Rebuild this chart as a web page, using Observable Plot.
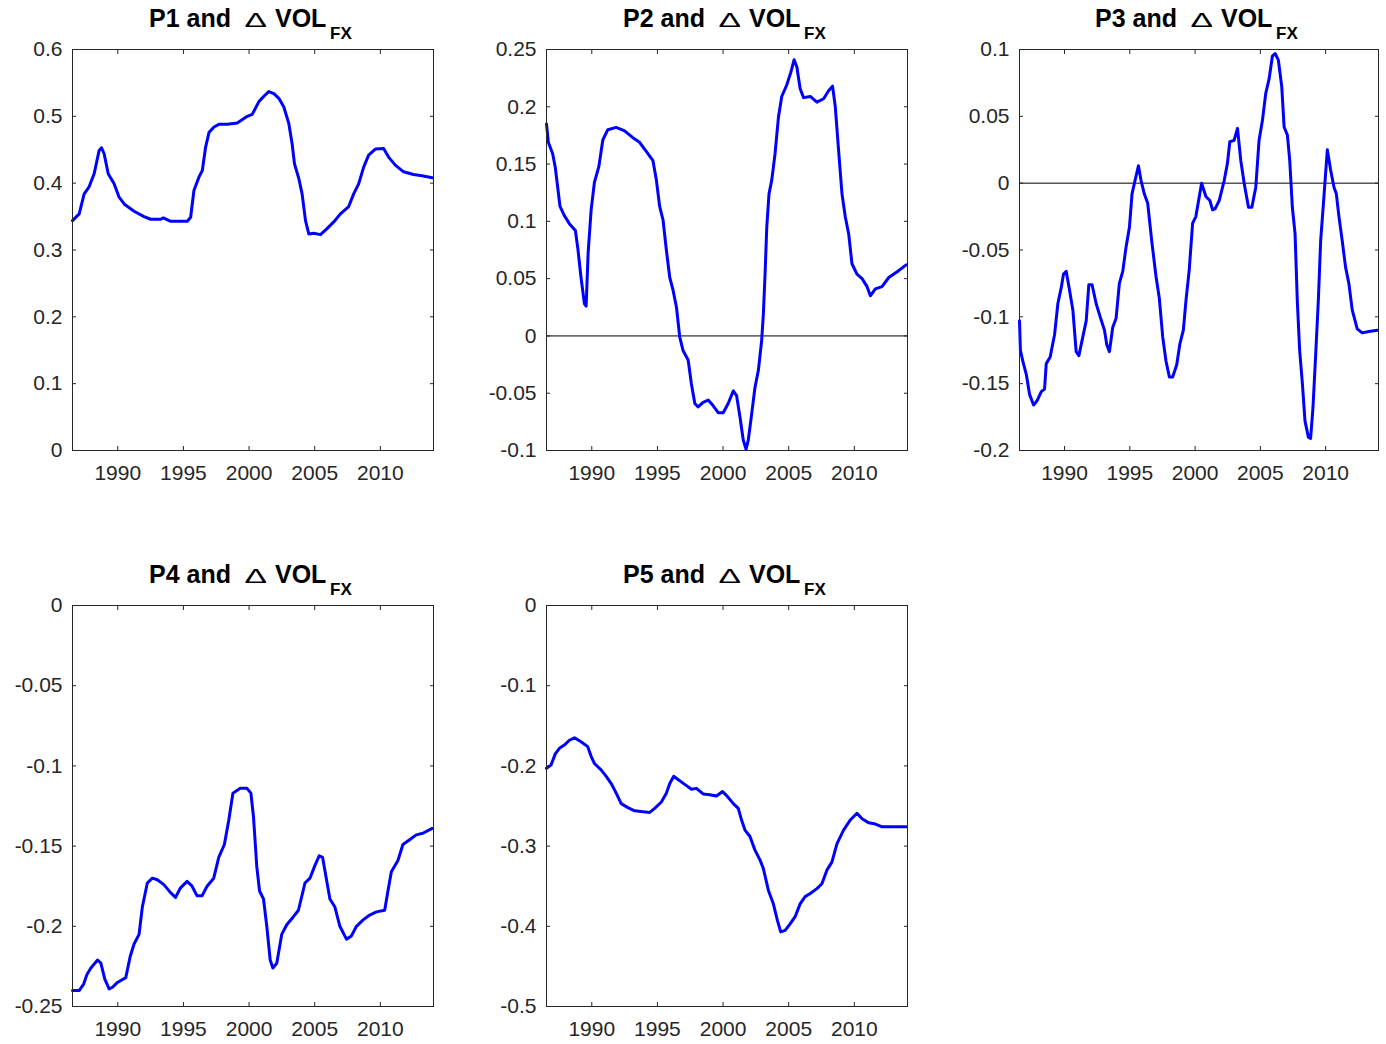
<!DOCTYPE html>
<html><head><meta charset="utf-8">
<script src="https://cdn.jsdelivr.net/npm/d3@7"></script>
<script src="https://cdn.jsdelivr.net/npm/@observablehq/plot@0.6"></script>
<style>
body{margin:0;background:#fff;}
#chart{position:relative;width:1386px;height:1044px;background:#fff;font-family:"Liberation Sans",Arial,sans-serif;overflow:hidden;}
#chart svg{position:absolute;}
</style></head><body><div id="chart"></div>
<script>
// ---- data ----
const xTicks = [1990, 1995, 2000, 2005, 2010];
const xDomain = [1986.55, 2014.05];
const panelNames = ["P1", "P2", "P3", "P4", "P5"];
const titleRest = "and";
const titleVar = "VOL";
const titleSub = "FX";

const p1Series = [[1986.55,0.344],[1987.06,0.354],[1987.44,0.384],[1987.8,0.394],[1988.2,0.414],[1988.58,0.449],[1988.76,0.453],[1988.96,0.444],[1989.27,0.414],[1989.72,0.399],[1990.1,0.379],[1990.53,0.368],[1991.24,0.358],[1992.0,0.350],[1992.5,0.346],[1993.27,0.346],[1993.47,0.348],[1994.03,0.343],[1995.3,0.343],[1995.55,0.349],[1995.8,0.389],[1996.18,0.409],[1996.44,0.419],[1996.69,0.454],[1996.95,0.476],[1997.33,0.484],[1997.7,0.488],[1998.34,0.488],[1999.1,0.490],[1999.86,0.500],[2000.24,0.503],[2000.75,0.522],[2001.13,0.530],[2001.5,0.537],[2001.89,0.534],[2002.27,0.527],[2002.65,0.514],[2003.03,0.489],[2003.28,0.459],[2003.46,0.429],[2003.79,0.407],[2004.04,0.384],[2004.3,0.344],[2004.55,0.324],[2004.93,0.325],[2005.44,0.323],[2005.94,0.332],[2006.45,0.342],[2006.96,0.354],[2007.59,0.365],[2007.97,0.384],[2008.35,0.399],[2008.73,0.424],[2009.11,0.442],[2009.62,0.451],[2010.25,0.452],[2010.63,0.439],[2011.14,0.427],[2011.77,0.417],[2012.53,0.413],[2013.17,0.411],[2013.95,0.408]];

const p2Series = [[1986.55,0.185],[1986.69,0.169],[1987.02,0.159],[1987.22,0.147],[1987.4,0.130],[1987.58,0.113],[1987.91,0.105],[1988.29,0.098],[1988.75,0.092],[1988.93,0.077],[1989.18,0.051],[1989.44,0.028],[1989.57,0.026],[1989.72,0.072],[1989.95,0.110],[1990.2,0.134],[1990.54,0.148],[1990.84,0.171],[1991.22,0.180],[1991.86,0.182],[1992.5,0.179],[1993.13,0.173],[1993.64,0.169],[1994.15,0.161],[1994.66,0.153],[1994.92,0.136],[1995.17,0.113],[1995.43,0.101],[1995.68,0.075],[1995.94,0.051],[1996.19,0.040],[1996.45,0.025],[1996.7,-0.001],[1996.96,-0.013],[1997.34,-0.021],[1997.59,-0.042],[1997.85,-0.059],[1998.1,-0.062],[1998.48,-0.058],[1998.87,-0.056],[1999.25,-0.061],[1999.63,-0.067],[2000.01,-0.067],[2000.39,-0.059],[2000.78,-0.048],[2001.03,-0.052],[2001.29,-0.071],[2001.54,-0.091],[2001.75,-0.099],[2001.92,-0.091],[2002.18,-0.068],[2002.43,-0.045],[2002.69,-0.030],[2002.94,-0.004],[2003.07,0.019],[2003.2,0.054],[2003.33,0.095],[2003.5,0.124],[2003.71,0.136],[2003.96,0.159],[2004.22,0.191],[2004.47,0.209],[2004.85,0.219],[2005.16,0.230],[2005.41,0.241],[2005.62,0.235],[2005.87,0.216],[2006.13,0.208],[2006.64,0.209],[2007.15,0.204],[2007.66,0.207],[2008.04,0.214],[2008.34,0.218],[2008.55,0.200],[2008.8,0.162],[2009.06,0.124],[2009.31,0.104],[2009.57,0.089],[2009.82,0.063],[2010.2,0.054],[2010.59,0.050],[2010.97,0.043],[2011.22,0.035],[2011.6,0.041],[2012.11,0.043],[2012.62,0.051],[2013.26,0.056],[2013.95,0.062]];

const p3Series = [[1986.55,-0.103],[1986.62,-0.125],[1986.8,-0.133],[1987.07,-0.143],[1987.32,-0.158],[1987.63,-0.166],[1987.88,-0.163],[1988.22,-0.156],[1988.47,-0.154],[1988.6,-0.135],[1988.9,-0.130],[1989.24,-0.113],[1989.49,-0.090],[1989.75,-0.078],[1989.92,-0.068],[1990.13,-0.066],[1990.38,-0.080],[1990.64,-0.095],[1990.89,-0.126],[1991.1,-0.129],[1991.4,-0.115],[1991.66,-0.103],[1991.86,-0.076],[1992.11,-0.076],[1992.42,-0.090],[1992.73,-0.100],[1993.06,-0.110],[1993.24,-0.121],[1993.44,-0.126],[1993.69,-0.108],[1993.95,-0.101],[1994.2,-0.075],[1994.46,-0.066],[1994.71,-0.048],[1994.97,-0.033],[1995.17,-0.008],[1995.4,0.002],[1995.66,0.013],[1995.86,0.002],[1996.11,-0.008],[1996.37,-0.015],[1996.7,-0.045],[1997.01,-0.070],[1997.26,-0.086],[1997.52,-0.115],[1997.77,-0.133],[1998.03,-0.145],[1998.28,-0.145],[1998.59,-0.136],[1998.84,-0.120],[1999.1,-0.110],[1999.3,-0.088],[1999.55,-0.065],[1999.81,-0.030],[2000.06,-0.025],[2000.27,-0.013],[2000.5,0.000],[2000.83,-0.010],[2001.13,-0.013],[2001.34,-0.020],[2001.54,-0.019],[2001.85,-0.013],[2002.23,0.002],[2002.48,0.015],[2002.66,0.031],[2002.99,0.032],[2003.25,0.041],[2003.5,0.017],[2003.76,0.000],[2004.09,-0.018],[2004.35,-0.018],[2004.65,-0.003],[2004.9,0.032],[2005.16,0.047],[2005.41,0.067],[2005.67,0.078],[2005.92,0.095],[2006.13,0.097],[2006.38,0.092],[2006.64,0.072],[2006.82,0.042],[2007.07,0.036],[2007.25,0.017],[2007.45,-0.018],[2007.66,-0.038],[2007.83,-0.088],[2008.01,-0.125],[2008.22,-0.150],[2008.42,-0.178],[2008.68,-0.190],[2008.85,-0.191],[2009.03,-0.168],[2009.24,-0.128],[2009.44,-0.088],[2009.62,-0.043],[2009.87,-0.010],[2010.13,0.025],[2010.38,0.010],[2010.64,-0.003],[2010.82,-0.008],[2011.02,-0.025],[2011.27,-0.043],[2011.53,-0.063],[2011.78,-0.075],[2012.04,-0.095],[2012.42,-0.109],[2012.8,-0.112],[2013.31,-0.111],[2013.95,-0.110]];

const p4Series = [[1986.55,-0.240],[1987.07,-0.240],[1987.4,-0.236],[1987.65,-0.230],[1987.95,-0.226],[1988.46,-0.221],[1988.71,-0.223],[1989.01,-0.233],[1989.34,-0.239],[1989.6,-0.238],[1989.97,-0.235],[1990.61,-0.232],[1990.94,-0.219],[1991.24,-0.211],[1991.62,-0.205],[1991.87,-0.188],[1992.25,-0.173],[1992.63,-0.170],[1993.01,-0.171],[1993.51,-0.174],[1994.02,-0.179],[1994.4,-0.182],[1994.78,-0.176],[1995.28,-0.172],[1995.66,-0.175],[1996.04,-0.181],[1996.42,-0.181],[1996.8,-0.175],[1997.31,-0.170],[1997.69,-0.157],[1998.12,-0.149],[1998.45,-0.134],[1998.77,-0.117],[1999.33,-0.114],[1999.84,-0.114],[2000.14,-0.117],[2000.34,-0.132],[2000.59,-0.163],[2000.8,-0.178],[2001.1,-0.183],[2001.35,-0.200],[2001.61,-0.221],[2001.81,-0.226],[2002.11,-0.223],[2002.49,-0.205],[2002.87,-0.199],[2003.38,-0.194],[2003.76,-0.190],[2004.26,-0.173],[2004.64,-0.170],[2005.02,-0.162],[2005.35,-0.156],[2005.6,-0.157],[2005.9,-0.171],[2006.16,-0.183],[2006.54,-0.188],[2006.92,-0.200],[2007.42,-0.208],[2007.8,-0.206],[2008.18,-0.200],[2008.69,-0.196],[2009.19,-0.193],[2009.7,-0.191],[2010.33,-0.190],[2010.58,-0.178],[2010.84,-0.166],[2011.34,-0.159],[2011.72,-0.149],[2012.23,-0.146],[2012.73,-0.143],[2013.24,-0.142],[2013.95,-0.139]];

const p5Series = [[1986.55,-0.203],[1986.89,-0.199],[1987.22,-0.185],[1987.53,-0.178],[1987.91,-0.174],[1988.29,-0.168],[1988.68,-0.165],[1989.18,-0.170],[1989.69,-0.176],[1989.95,-0.188],[1990.2,-0.197],[1990.71,-0.205],[1991.1,-0.213],[1991.48,-0.222],[1991.86,-0.234],[1992.24,-0.247],[1992.75,-0.252],[1993.26,-0.256],[1993.77,-0.257],[1994.41,-0.258],[1994.79,-0.253],[1995.3,-0.245],[1995.68,-0.234],[1995.94,-0.222],[1996.24,-0.213],[1996.57,-0.217],[1997.08,-0.223],[1997.59,-0.229],[1997.97,-0.228],[1998.48,-0.235],[1998.99,-0.236],[1999.5,-0.2375],[1999.96,-0.232],[2000.27,-0.237],[2000.78,-0.247],[2001.16,-0.253],[2001.41,-0.2675],[2001.67,-0.280],[2002.05,-0.288],[2002.43,-0.305],[2002.82,-0.3175],[2003.07,-0.328],[2003.45,-0.355],[2003.83,-0.372],[2004.14,-0.3925],[2004.39,-0.407],[2004.73,-0.405],[2005.11,-0.397],[2005.49,-0.388],[2005.87,-0.372],[2006.25,-0.363],[2006.64,-0.359],[2007.15,-0.353],[2007.53,-0.347],[2007.91,-0.330],[2008.29,-0.320],[2008.68,-0.297],[2009.18,-0.280],[2009.69,-0.2675],[2010.2,-0.259],[2010.59,-0.266],[2011.1,-0.271],[2011.61,-0.2725],[2012.11,-0.276],[2013.01,-0.276],[2013.95,-0.276]];

const p1YTicks = [0, 0.1, 0.2, 0.3, 0.4, 0.5, 0.6];
const p2YTicks = [-0.1, -0.05, 0, 0.05, 0.1, 0.15, 0.2, 0.25];
const p3YTicks = [-0.2, -0.15, -0.1, -0.05, 0, 0.05, 0.1];
const p4YTicks = [-0.25, -0.2, -0.15, -0.1, -0.05, 0];
const p5YTicks = [-0.5, -0.4, -0.3, -0.2, -0.1, 0];

const seriesList = [p1Series, p2Series, p3Series, p4Series, p5Series];
const yTickList = [p1YTicks, p2YTicks, p3YTicks, p4YTicks, p5YTicks];

// ---- layout (positions only) ----
const layout = [
  {left: 72, top: 49, w: 361},
  {left: 546, top: 49, w: 361},
  {left: 1019, top: 49, w: 359},
  {left: 72, top: 605, w: 361},
  {left: 546, top: 605, w: 361}
];
const innerH = 401, ml = 80, mr = 12, mt = 10, mb = 45;
const axisColor = "#262626";
const fmtY = d => String(+(+d).toFixed(4));
const fmtX = d => String(d);

const chart = document.getElementById("chart");

seriesList.forEach((series, i) => {
  const L = layout[i];
  const ticks = yTickList[i];
  const yDomain = d3.extent(ticks);
  const data = series.map(([year, value]) => ({year, value}));
  const hasZero = yDomain[0] < 0 && yDomain[1] > 0;
  const plot = Plot.plot({
    width: ml + L.w + mr,
    height: mt + innerH + mb,
    marginLeft: ml, marginRight: mr, marginTop: mt, marginBottom: mb,
    style: {fontFamily: '"Liberation Sans", Arial, sans-serif', fontSize: "21px", color: axisColor, background: "transparent", overflow: "visible"},
    x: {domain: xDomain, label: null},
    y: {domain: yDomain, label: null},
    marks: [
      hasZero ? Plot.ruleY([0], {stroke: "#000", strokeWidth: 1}) : null,
      Plot.line(data, {x: "year", y: "value", stroke: "#0000ff", strokeWidth: 3, strokeLinejoin: "round"}),
      Plot.frame({stroke: axisColor, strokeWidth: 1}),
      Plot.axisX(xTicks, {anchor: "bottom", tickSize: 0, tickPadding: 15, tickFormat: fmtX, label: null}),
      Plot.axisX(xTicks, {anchor: "bottom", tickSize: -4, fill: "none", label: null}),
      Plot.axisX(xTicks, {anchor: "top", tickSize: -4, fill: "none", label: null}),
      Plot.axisY(ticks, {anchor: "left", tickSize: 0, tickPadding: 10, tickFormat: fmtY, label: null}),
      Plot.axisY(ticks, {anchor: "left", tickSize: -4, fill: "none", label: null}),
      Plot.axisY(ticks, {anchor: "right", tickSize: -4, fill: "none", label: null})
    ]
  });
  plot.style.left = (L.left - ml) + "px";
  plot.style.top = (L.top - mt) + "px";
  chart.appendChild(plot);
});

// ---- titles ----
const overlay = d3.select(chart).append("svg")
  .attr("width", 1386).attr("height", 1044)
  .style("left", "0px").style("top", "0px")
  .style("pointer-events", "none")
  .style("font-family", '"Liberation Sans", Arial, sans-serif');

panelNames.forEach((name, i) => {
  const L = layout[i];
  const c = L.left + L.w / 2;
  const base = L.top - 22;
  const g = overlay.append("g").attr("fill", "#000");
  g.append("text").attr("x", c - 103.5).attr("y", base)
    .attr("font-size", 25).attr("font-weight", "bold").text(name + " " + titleRest);
  g.append("text").attr("transform", `translate(${c - 8},${base}) scale(1.6,1)`)
    .attr("font-size", 21).attr("font-weight", "normal").text("\u0394");
  g.append("text").attr("x", c + 22.5).attr("y", base)
    .attr("font-size", 25).attr("font-weight", "bold").text(titleVar);
  g.append("text").attr("x", c + 77.5).attr("y", base + 11.5)
    .attr("font-size", 17).attr("font-weight", "bold").text(titleSub);
});
</script>
</body></html>
